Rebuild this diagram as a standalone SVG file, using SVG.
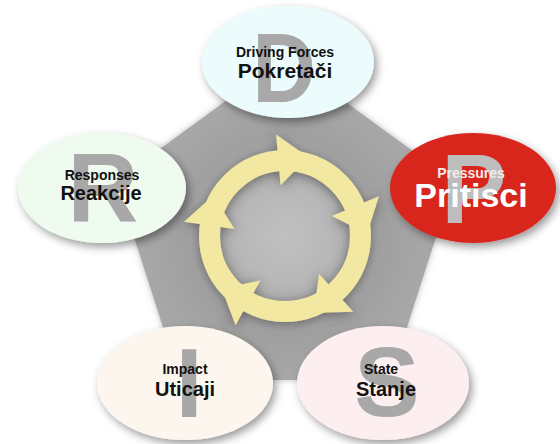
<svg xmlns="http://www.w3.org/2000/svg" xmlns:xlink="http://www.w3.org/1999/xlink" width="560" height="444" viewBox="0 0 560 444">
<defs>
<style>
.lbl{font-family:"Liberation Sans",Arial,sans-serif;font-weight:bold;text-anchor:middle;fill:#111}
.sm{font-size:14px}
.lg{font-size:20px}
.big{font-family:"Liberation Sans",Arial,sans-serif;font-weight:bold;text-anchor:middle;font-size:98px;fill:#a8a8a8}
.ring{fill:none;stroke:#f2e8a2;stroke-width:21}
.ah{fill:#f2e8a2}
</style>
<radialGradient id="pg" gradientUnits="userSpaceOnUse" cx="285" cy="236" r="185">
<stop offset="0" stop-color="#c0c0c0"/>
<stop offset="0.25" stop-color="#b8b8b8"/>
<stop offset="0.55" stop-color="#a0a0a0"/>
<stop offset="0.8" stop-color="#a8a8a8"/>
<stop offset="1" stop-color="#b6b6b6"/>
</radialGradient>
<filter id="sh" x="-20%" y="-20%" width="140%" height="150%">
<feDropShadow dx="3" dy="4" stdDeviation="4" flood-color="#000" flood-opacity="0.4"/>
</filter>
<filter id="glow" x="-30%" y="-30%" width="160%" height="160%">
<feDropShadow dx="0" dy="2" stdDeviation="6" flood-color="#444" flood-opacity="0.7"/>
</filter>
<filter id="psh" x="-10%" y="-10%" width="120%" height="120%">
<feDropShadow dx="0" dy="0" stdDeviation="3" flood-color="#777" flood-opacity="0.5"/>
</filter>
<polygon id="ah" class="ah" points="51,0 102,0 80,26 64.5,16"/>
</defs>
<rect width="560" height="444" fill="#ffffff"/>
<polygon id="pentagon" points="285,58 454,181 390,380 180,380 116,181" fill="url(#pg)" filter="url(#psh)"/>
<g id="connectors" filter="url(#glow)">
<circle class="ring" cx="285" cy="236" r="75.5"/>
<use xlink:href="#ah" href="#ah" transform="translate(285,236) rotate(-95)"/>
<use xlink:href="#ah" href="#ah" transform="translate(285,236) rotate(-23)"/>
<use xlink:href="#ah" href="#ah" transform="translate(285,236) rotate(48)"/>
<use xlink:href="#ah" href="#ah" transform="translate(285,236) rotate(119)"/>
<use xlink:href="#ah" href="#ah" transform="translate(285,236) rotate(188)"/>
</g>
<g id="node-D">
<ellipse cx="288" cy="62" rx="86" ry="56" fill="#ecfbfc" filter="url(#sh)"/>
<text class="big" transform="translate(284,102) scale(0.9,1)">D</text>
<text class="lbl sm" x="285" y="57">Driving Forces</text>
<text class="lbl" x="285" y="78" font-size="21">Pokretači</text>
</g>
<g id="node-P">
<ellipse cx="473" cy="188" rx="83" ry="55" fill="#d8281e" filter="url(#sh)"/>
<text class="big" x="474" y="223" style="fill:#bdbdbd">P</text>
<text class="lbl sm" x="471" y="178" style="fill:#f6eaea">Pressures</text>
<text class="lbl" x="471" y="207" font-size="34" style="fill:#ffffff">Pritisci</text>
</g>
<g id="node-R">
<ellipse cx="102" cy="188" rx="84" ry="55" fill="#f0fbef" filter="url(#sh)"/>
<text class="big" x="103" y="222">R</text>
<text class="lbl sm" x="102" y="180">Responses</text>
<text class="lbl lg" x="101" y="200">Reakcije</text>
</g>
<g id="node-I">
<ellipse cx="185" cy="383" rx="88" ry="57" fill="#fcf6ee" filter="url(#sh)"/>
<text class="big" x="189" y="417">I</text>
<text class="lbl sm" x="185" y="374">Impact</text>
<text class="lbl lg" x="185" y="396">Uticaji</text>
</g>
<g id="node-S">
<ellipse cx="383" cy="383" rx="86" ry="57" fill="#fdeef0" filter="url(#sh)"/>
<text class="big" x="387" y="416">S</text>
<text class="lbl sm" x="381" y="374">State</text>
<text class="lbl lg" x="386" y="396">Stanje</text>
</g>
</svg>
